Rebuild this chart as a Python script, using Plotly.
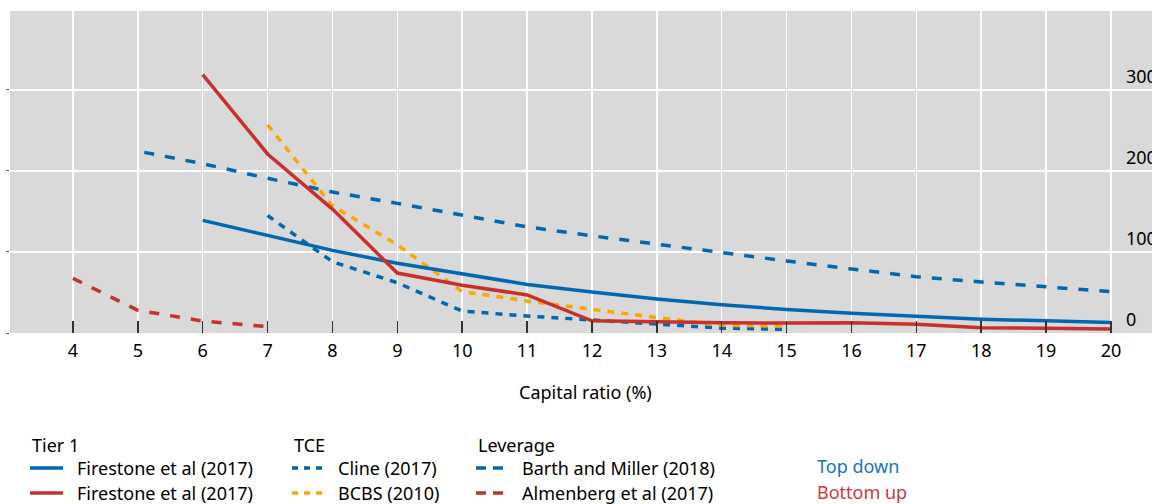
import plotly.graph_objects as go

# ---- data ----
x_firestone = [6, 7, 8, 9, 10, 11, 12, 13, 14, 15, 16, 17, 18, 19, 20]
firestone_top = [139, 120, 102, 86, 73, 60, 50.5, 42, 35, 29, 24.5, 21, 17, 15, 13]
firestone_bottom = [319, 221, 153, 74, 59, 47, 15, 13.5, 12.8, 12.3, 12.5, 10.7, 6.6, 5.8, 5]

x_cline = [7, 8, 9, 10, 11, 12, 13, 14, 15]
cline = [145, 88, 62, 27, 21, 16, 11, 6, 4.5]

x_bcbs = [7, 8, 9, 10, 11, 12, 13, 14, 15]
bcbs = [257, 157, 109, 51, 39.5, 29, 19, 9.5, 8.6]

x_barth = [5.1, 6, 7, 8, 9, 10, 11, 12, 13, 14, 15, 16, 17, 18, 19, 20]
barth = [223, 209, 191, 174, 160, 146, 131, 120, 109.5, 98.5, 89, 79, 69.5, 63, 57, 51]

x_almenberg = [4, 5, 6, 7]
almenberg = [67.5, 28, 14.8, 7.8]

x_ticks = list(range(4, 21))
y_ticks = [0, 100, 200, 300]
y_tick_labels = ["0", "100", "200", "300"]

BLUE = "#0067b1"
RED = "#c8312b"
ORANGE = "#fda500"
FONT = "Noto Sans"
FS = 18

DOT = "7px,7px"
DASH = "10px,11px"
W = 3.5

fig = go.Figure()

def add(x, y, color, dash):
    fig.add_trace(go.Scatter(x=x, y=y, mode="lines",
                             line=dict(color=color, width=W, dash=dash),
                             showlegend=False, hoverinfo="skip"))

add(x_barth, barth, BLUE, DASH)
add(x_almenberg, almenberg, RED, DASH)
add(x_cline, cline, BLUE, DOT)
add(x_bcbs, bcbs, ORANGE, DOT)
add(x_firestone, firestone_top, BLUE, "solid")
add(x_firestone, firestone_bottom, RED, "solid")

# right-hand value labels sitting above the gridlines
for v, lab in zip(y_ticks, y_tick_labels):
    fig.add_annotation(x=20.2, y=v, xref="x", yref="y", text=lab,
                       showarrow=False, xanchor="left", yanchor="bottom",
                       font=dict(family=FONT, size=FS, color="#000"))

# axis title
L, T, PW, PH = 10, 11, 1142, 322
def px(xp):
    return (xp - L) / PW
def py(yp):
    return (T + PH - yp) / PH

fig.add_annotation(x=px(585), y=py(392), xref="paper", yref="paper",
                   text="Capital ratio (%)", showarrow=False,
                   xanchor="center", yanchor="middle",
                   font=dict(family=FONT, size=FS, color="#000"))

# legend (manual)
legend_font = dict(family=FONT, size=FS, color="#000")
headers = [("Tier 1", 30), ("TCE", 292), ("Leverage", 476)]
for txt, xp in headers:
    fig.add_annotation(x=px(xp), y=py(445), xref="paper", yref="paper",
                       text=txt, showarrow=False, xanchor="left",
                       yanchor="middle", font=legend_font)

entries = [
    (30, 63, 75, 468, "Firestone et al (2017)", BLUE, "solid"),
    (30, 63, 75, 493, "Firestone et al (2017)", RED, "solid"),
    (292, 325, 336, 468, "Cline (2017)", BLUE, "6px,6px"),
    (292, 325, 336, 493, "BCBS (2010)", ORANGE, "6px,6px"),
    (476, 509, 520, 468, "Barth and Miller (2018)", BLUE, "10px,7px"),
    (476, 509, 520, 493, "Almenberg et al (2017)", RED, "10px,7px"),
]
for x0, x1, xt, yp, txt, col, dash in entries:
    fig.add_shape(type="line", xref="paper", yref="paper",
                  x0=px(x0), x1=px(x1), y0=py(yp), y1=py(yp),
                  line=dict(color=col, width=3.5, dash=dash))
    fig.add_annotation(x=px(xt), y=py(yp), xref="paper", yref="paper",
                       text=txt, showarrow=False, xanchor="left",
                       yanchor="middle", font=legend_font)

fig.add_annotation(x=px(815), y=py(466), xref="paper", yref="paper",
                   text="Top down", showarrow=False, xanchor="left",
                   yanchor="middle", font=dict(family=FONT, size=FS, color="#1a73bb"))
fig.add_annotation(x=px(815), y=py(492), xref="paper", yref="paper",
                   text="Bottom up", showarrow=False, xanchor="left",
                   yanchor="middle", font=dict(family=FONT, size=FS, color="#d0393a"))

fig.update_layout(
    width=1152, height=504,
    margin=dict(l=L, r=0, t=T, b=504 - T - PH, pad=0),
    paper_bgcolor="white", plot_bgcolor="#d9d9d9",
    font=dict(family=FONT, size=FS, color="#000"),
    showlegend=False,
    xaxis=dict(range=[3.03, 20.632], tickmode="array", tickvals=x_ticks,
               ticktext=[str(v) for v in x_ticks],
               showgrid=True, gridcolor="white", gridwidth=1.5,
               ticks="inside", ticklen=12, tickwidth=1.5, tickcolor="#333",
               ticklabelstandoff=5,
               zeroline=False, showline=False,
               tickfont=dict(family=FONT, size=FS, color="#000")),
    yaxis=dict(range=[0, 397.5], tickmode="array", tickvals=y_ticks,
               showticklabels=False, showgrid=True, gridcolor="white",
               gridwidth=1.5, ticks="outside", ticklen=3, tickcolor="#555",
               zeroline=False, showline=False),
)

fig.write_html("out.html",
               config={"displayModeBar": False, "staticPlot": True},
               post_script="document.body.style.margin='0';document.body.style.overflow='hidden';")
